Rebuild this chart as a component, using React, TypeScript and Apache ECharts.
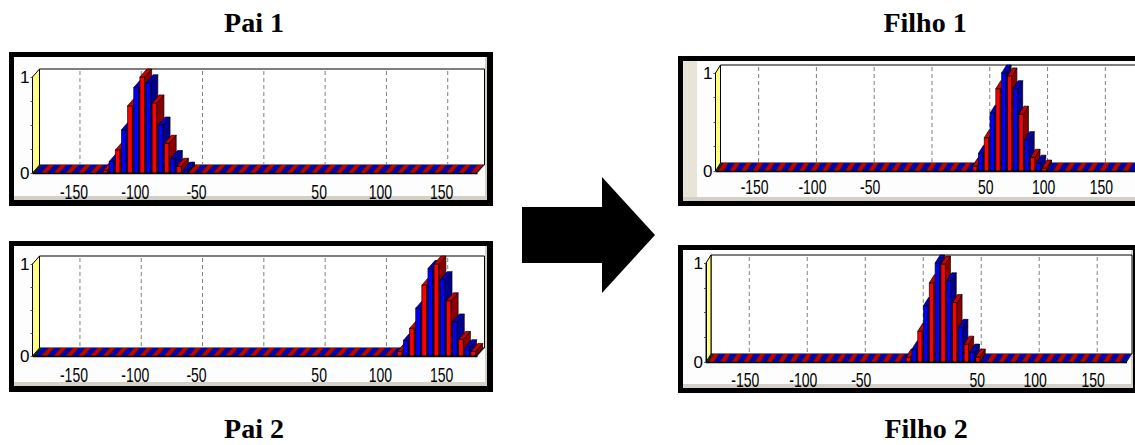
import React, { useEffect, useRef } from "react";
import * as echarts from "echarts";

// ---- axis / bin definition ----
const X_MIN = -183;
const X_MAX = 180;
const BIN_WIDTH = 5;
const FIRST_BIN_CENTER = -177.5;
const BIN_COUNT = 72;

const gridLineValues = [-150, -100, -50, 0, 50, 100, 150];
const xTickValues = [-150, -100, -50, 50, 100, 150];
const xTickLabels = ["-150", "-100", "-50", "50", "100", "150"];

// ---- histogram values (non-zero bins, consecutive from the start centre) ----
const pai1Start = -122.5;
const pai1Heights = [0.03, 0.12, 0.24, 0.45, 0.7, 0.89, 1.0, 0.94, 0.73, 0.5, 0.31, 0.15, 0.07, 0.03];
const pai2Start = 117.5;
const pai2Heights = [0.05, 0.17, 0.3, 0.52, 0.77, 0.95, 1.0, 0.83, 0.6, 0.37, 0.18, 0.09, 0.05];
const filho1Start = 42.5;
const filho1Heights = [0.05, 0.18, 0.34, 0.59, 0.84, 1.0, 0.97, 0.84, 0.58, 0.32, 0.14, 0.08, 0.03];
const filho2Start = -7.5;
const filho2Heights = [0.05, 0.13, 0.31, 0.57, 0.8, 1.0, 0.99, 0.82, 0.6, 0.35, 0.18, 0.1, 0.05];

const titles = ["Pai 1", "Pai 2", "Filho 1", "Filho 2"];

function buildBins(start: number, heights: number[]) {
  const out: number[][] = [];
  for (let i = 0; i < BIN_COUNT; i++) {
    const c = FIRST_BIN_CENTER + i * BIN_WIDTH;
    const k = Math.round((c - start) / BIN_WIDTH);
    const v = k >= 0 && k < heights.length ? heights[k] : 0;
    out.push([c, v, i]);
  }
  return out;
}

const RED = { front: "#FF0000", top: "#C80000", side: "#8A0000" };
const BLUE = { front: "#0000FF", top: "#0000C8", side: "#00008A" };

const panels = [
  { bins: buildBins(pai1Start, pai1Heights), grid: { left: 32.5, top: 77, width: 445, height: 96 }, depth: [7, -8], oddIsRed: true, labelGap: 19 },
  { bins: buildBins(pai2Start, pai2Heights), grid: { left: 32.5, top: 264, width: 445, height: 92 }, depth: [7, -8], oddIsRed: true, labelGap: 19 },
  { bins: buildBins(filho1Start, filho1Heights), grid: { left: 715.5, top: 73, width: 421, height: 98 }, depth: [5, -8], oddIsRed: false, labelGap: 16 },
  { bins: buildBins(filho2Start, filho2Heights), grid: { left: 706, top: 263, width: 421, height: 99 }, depth: [5, -8], oddIsRed: false, labelGap: 18 },
];

const frames = [
  { outer: [9, 52, 484, 154], inner: [14, 57, 473, 143], bevels: [[14, 196, 473, 4, "#D4D0C8"], [485, 57, 2, 143, "#D4D0C8"]] },
  { outer: [9, 241, 484, 151], inner: [14, 246, 473, 140], bevels: [[14, 382, 473, 4, "#D4D0C8"], [485, 246, 2, 140, "#D4D0C8"]] },
  { outer: [678, 56, 470, 150], inner: [683, 61, 460, 140], bevels: [[683, 61, 14, 140, "#E8E4D8"], [683, 197, 460, 4, "#D4D0C8"]] },
  { outer: [678, 245, 462, 148], inner: [683, 250, 450, 138], bevels: [[683, 384, 450, 4, "#D4D0C8"], [1131, 250, 2, 138, "#D4D0C8"]] },
];

const titlePos = [
  [254, 22],
  [254, 428],
  [925, 22],
  [926, 428],
];

export default function App() {
  const ref = useRef<HTMLDivElement>(null);

  useEffect(() => {
    if (!ref.current) return;
    const chart = echarts.init(ref.current, undefined, { renderer: "svg" });

    const grids: any[] = [];
    const xAxes: any[] = [];
    const yAxes: any[] = [];
    const series: any[] = [];

    panels.forEach((p, pi) => {
      const [dx, dy] = p.depth;
      grids.push({ ...p.grid, containLabel: false });
      xAxes.push({ gridIndex: pi, type: "value", min: X_MIN, max: X_MAX, show: false });
      yAxes.push({
        gridIndex: pi,
        type: "value",
        position: "left",
        min: 0,
        max: 1,
        interval: 0.25,
        z: 6,
        axisLine: { show: true, onZero: false, lineStyle: { color: "#000", width: 1 } },
        axisTick: { show: true, length: 2, lineStyle: { color: "#555" } },
        axisLabel: {
          margin: 3,
          fontSize: 17,
          fontFamily: "Liberation Sans",
          color: "#000",
          formatter: (v: number) => (v === 0 || v === 1 ? String(v) : ""),
        },
        splitLine: { show: false },
      });

      // walls: back wall, yellow left wall, floor underlay
      series.push({
        type: "custom",
        xAxisIndex: pi,
        yAxisIndex: pi,
        z: 2,
        silent: true,
        clip: false,
        data: [[X_MIN, 0]],
        renderItem: (_params: any, api: any) => {
          const f0 = api.coord([X_MIN, 0]);
          const f1 = api.coord([X_MIN, 1]);
          const r0 = api.coord([X_MAX, 0]);
          return {
            type: "group",
            children: [
              {
                type: "rect",
                shape: { x: f1[0] + dx, y: f1[1] + dy, width: r0[0] - f0[0], height: f0[1] - f1[1] },
                style: { fill: "#FFFFFF", stroke: "#000", lineWidth: 1 },
              },
              {
                type: "polygon",
                shape: { points: [[f0[0], f0[1]], [f1[0], f1[1]], [f1[0] + dx, f1[1] + dy], [f0[0] + dx, f0[1] + dy]] },
                style: { fill: "#FFFF80", stroke: "#000", lineWidth: 1 },
              },
              {
                type: "polygon",
                shape: { points: [[f0[0], f0[1]], [r0[0], r0[1]], [r0[0] + dx, r0[1] + dy], [f0[0] + dx, f0[1] + dy]] },
                style: { fill: "#202020" },
              },
            ],
          };
        },
      });

      // dashed grid lines on the back wall
      series.push({
        type: "custom",
        xAxisIndex: pi,
        yAxisIndex: pi,
        z: 3,
        silent: true,
        clip: false,
        data: gridLineValues.map((v) => [v, 0]),
        renderItem: (_params: any, api: any) => {
          const v = api.value(0);
          const b = api.coord([v, 0]);
          const t = api.coord([v, 1]);
          return {
            type: "line",
            shape: { x1: b[0] + dx, y1: t[1] + dy + 2, x2: b[0] + dx, y2: b[1] + dy },
            style: { stroke: "#808080", lineWidth: 1, lineDash: [4, 3] },
          };
        },
      });

      // 3D bars
      series.push({
        type: "custom",
        xAxisIndex: pi,
        yAxisIndex: pi,
        z: 4,
        silent: true,
        clip: false,
        data: p.bins,
        renderItem: (_params: any, api: any) => {
          const c = api.value(0);
          const v = api.value(1);
          const idx = api.value(2);
          const a = api.coord([c - BIN_WIDTH / 2, 0]);
          const b = api.coord([c + BIN_WIDTH / 2, 0]);
          const t = api.coord([c, v]);
          const slot = b[0] - a[0];
          const w = slot * 0.78;
          const x = a[0] - 0.5;
          const y0 = a[1];
          const yt = t[1];
          const isRed = (idx % 2 === 1) === p.oddIsRed;
          const col = isRed ? RED : BLUE;
          const children: any[] = [];
          if (v > 0) {
            children.push({
              type: "rect",
              shape: { x, y: yt, width: w, height: y0 - yt },
              style: { fill: col.front, stroke: "#000", lineWidth: 0.7 },
            });
            children.push({
              type: "polygon",
              shape: { points: [[x + w, yt], [x + w + dx, yt + dy], [x + w + dx, y0 + dy], [x + w, y0]] },
              style: { fill: col.side, stroke: "#000", lineWidth: 0.7 },
            });
          }
          children.push({
            type: "polygon",
            shape: { points: [[x, yt], [x + w, yt], [x + w + dx, yt + dy], [x + dx, yt + dy]] },
            style: v > 0 ? { fill: col.top, stroke: "#000", lineWidth: 0.7 } : { fill: col.top },
          });
          return { type: "group", children };
        },
      });

      // floor front edge
      series.push({
        type: "custom",
        xAxisIndex: pi,
        yAxisIndex: pi,
        z: 5,
        silent: true,
        clip: false,
        data: [[X_MIN, 0]],
        renderItem: (_params: any, api: any) => {
          const f0 = api.coord([X_MIN, 0]);
          const r0 = api.coord([X_MAX, 0]);
          return {
            type: "line",
            shape: { x1: f0[0], y1: f0[1] + 0.5, x2: r0[0], y2: r0[1] + 0.5 },
            style: { stroke: "#000", lineWidth: 1.5 },
          };
        },
      });

      // x tick labels
      series.push({
        type: "custom",
        xAxisIndex: pi,
        yAxisIndex: pi,
        z: 5,
        silent: true,
        clip: false,
        data: xTickValues.map((v, i) => [v, 0, i]),
        renderItem: (_params: any, api: any) => {
          const v = api.value(0);
          const i = api.value(2);
          const pt = api.coord([v, 0]);
          return {
            type: "text",
            x: pt[0] + 1,
            y: pt[1] + p.labelGap,
            scaleX: 0.7,
            style: {
              text: xTickLabels[i],
              x: 0,
              y: 0,
              fontSize: 20,
              fontFamily: "Liberation Sans",
              fill: "#000",
              align: "center",
              verticalAlign: "middle",
            },
          };
        },
      });
    });

    const graphics: any[] = [];
    frames.forEach((f) => {
      graphics.push({ type: "rect", z: 0, shape: { x: f.outer[0], y: f.outer[1], width: f.outer[2], height: f.outer[3] }, style: { fill: "#000" } });
      graphics.push({ type: "rect", z: 0, shape: { x: f.inner[0], y: f.inner[1], width: f.inner[2], height: f.inner[3] }, style: { fill: "#FDFDFD" } });
      f.bevels.forEach((b: any) => {
        graphics.push({ type: "rect", z: 0, shape: { x: b[0], y: b[1], width: b[2], height: b[3] }, style: { fill: b[4] } });
      });
    });
    graphics.push({
      type: "polygon",
      z: 0,
      shape: { points: [[522, 207], [602, 207], [602, 177], [655, 235], [602, 293], [602, 263], [522, 263]] },
      style: { fill: "#000" },
    });
    titles.forEach((t, i) => {
      graphics.push({
        type: "text",
        z: 0,
        x: titlePos[i][0],
        y: titlePos[i][1],
        style: {
          text: t,
          fontSize: 28,
          fontWeight: "bold",
          fontFamily: "Liberation Serif",
          fill: "#000",
          align: "center",
          verticalAlign: "middle",
        },
      });
    });

    chart.setOption({
      animation: false,
      backgroundColor: "#FFFFFF",
      grid: grids,
      xAxis: xAxes,
      yAxis: yAxes,
      series,
      graphic: { elements: graphics },
    });

    return () => chart.dispose();
  }, []);

  return <div ref={ref} style={{ position: "absolute", left: 0, top: 0, width: 1135, height: 445 }} />;
}
